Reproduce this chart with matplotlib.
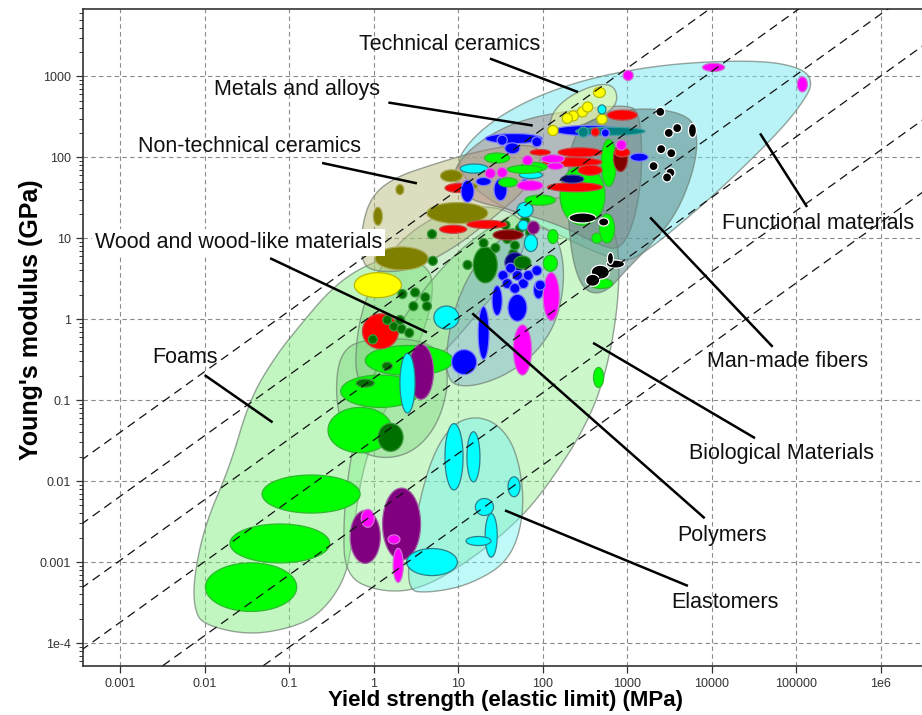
import numpy as np
import matplotlib
matplotlib.use('Agg')
import matplotlib.pyplot as plt
from matplotlib.ticker import FixedLocator, FixedFormatter, LogLocator, NullFormatter

plt.rcParams['font.family'] = ['Liberation Sans', 'DejaVu Sans']

# Axis ticks
X_TICKS = [1e-3, 1e-2, 0.1, 1, 10, 100, 1e3, 1e4, 1e5, 1e6]
X_TICK_LABELS = ['0.001', '0.01', '0.1', '1', '10', '100', '1000', '10000', '100000', '1e6']
Y_TICKS = [1e-4, 1e-3, 1e-2, 0.1, 1, 10, 100, 1000]
Y_TICK_LABELS = ['1e-4', '0.001', '0.01', '0.1', '1', '10', '100', '1000']

# Guide lines E = C * sigma^0.75, C given as E (GPa) at sigma = 1 MPa
GUIDE_SLOPE = 0.75
GUIDE_E_AT_1MPA = [7.1, 1.15, 0.186, 0.032, 0.0039, 0.0005]

# Family envelopes, outline points as log10(yield strength MPa), log10(modulus GPa)
FUNC_ENV_S = [0.96, 1.14, 1.50, 2.01, 2.68, 3.54, 4.57, 5.08, 5.20, 5.05, 4.78, 4.18, 3.59, 3.21, 2.98, 2.56, 1.85, 1.26]
FUNC_ENV_E = [1.90, 2.21, 2.52, 2.79, 3.01, 3.16, 3.20, 3.10, 2.91, 2.64, 2.30, 1.68, 1.14, 0.83, 0.70, 0.85, 1.22, 1.53]

FOAM_ENV_S = [-2.12, -2.13, -2.00, -1.70, -1.47, -1.17, -0.89, -0.50, -0.12, 0.25, 0.55, 0.73, 0.61, 0.31, 0.02, -0.16, -0.25, -0.34, -0.63, -0.99, -1.50, -2.02]
FOAM_ENV_E = [-3.58, -3.22, -2.55, -1.82, -1.00, -0.47, -0.10, 0.38, 0.66, 0.77, 0.72, 0.48, -0.14, -0.75, -1.37, -1.99, -2.73, -3.22, -3.64, -3.82, -3.90, -3.77]

BIO_ENV_S = [-0.34, -0.36, -0.28, -0.14, 0.02, 0.25, 0.67, 1.14, 1.73, 2.21, 2.68, 2.90, 2.90, 2.76, 2.52, 2.05, 1.69, 1.14, 0.55, 0.08]
BIO_ENV_E = [-3.18, -2.48, -1.74, -1.12, -0.63, -0.14, 0.48, 0.98, 1.35, 1.53, 1.47, 0.98, 0.23, -0.63, -1.31, -2.07, -2.51, -2.98, -3.34, -3.37]

FLEX_ENV_S = [-0.40, -0.04, 0.67, 0.91, 0.79, 0.49, 0.08, -0.30, -0.46]
FLEX_ENV_E = [-0.38, -0.23, -0.26, -0.63, -1.25, -1.64, -1.74, -1.56, -1.00]

WOOD_ENV_S = [-0.22, -0.20, -0.04, 0.25, 0.67, 1.14, 1.62, 1.85, 1.67, 1.26, 0.91, 0.55, 0.14]
WOOD_ENV_E = [-0.81, -0.14, 0.42, 0.91, 1.25, 1.41, 1.35, 1.10, 0.60, 0.11, -0.32, -0.69, -0.94]

ELAST_ENV_S = [0.37, 0.49, 0.67, 0.91, 1.20, 1.50, 1.71, 1.79, 1.62, 1.14, 0.67]
ELAST_ENV_E = [-3.35, -2.48, -1.74, -1.31, -1.19, -1.31, -1.68, -2.36, -2.98, -3.28, -3.38]

POLY_ENV_S = [0.85, 0.88, 1.08, 1.38, 1.79, 2.15, 2.27, 2.18, 1.91, 1.50, 1.08]
POLY_ENV_E = [-0.75, -0.14, 0.48, 0.91, 1.16, 1.10, 0.60, -0.01, -0.44, -0.73, -0.85]

NTC_ENV_S = [-0.15, -0.14, -0.02, 0.25, 0.67, 1.14, 1.73, 2.03, 1.85, 1.38, 0.91, 0.43, 0.02]
NTC_ENV_E = [0.70, 1.16, 1.53, 1.75, 1.90, 2.05, 2.17, 2.09, 1.65, 1.22, 0.85, 0.60, 0.58]

METAL_ENV_S = [0.96, 1.26, 1.73, 2.33, 2.98, 3.15, 3.18, 3.09, 2.92, 2.68, 2.21, 1.62, 1.14, 0.96]
METAL_ENV_E = [1.90, 2.21, 2.46, 2.58, 2.65, 2.56, 1.84, 1.22, 0.85, 0.91, 1.16, 1.35, 1.47, 1.65]

TECH_ENV_S = [2.07, 2.11, 2.33, 2.66, 2.85, 2.89, 2.74, 2.38]
TECH_ENV_E = [2.31, 2.56, 2.77, 2.91, 2.88, 2.68, 2.52, 2.36]

FIBRE_ENV_S = [2.29, 2.38, 2.68, 3.21, 3.75, 3.84, 3.77, 3.57, 3.27, 2.98, 2.74, 2.50, 2.36, 2.30]
FIBRE_ENV_E = [1.84, 2.33, 2.52, 2.62, 2.52, 2.21, 1.78, 1.28, 0.91, 0.60, 0.32, 0.33, 0.67, 1.22]

# Materials: log10 centre strength, log10 centre modulus, half range (decades) of each, colour code
foams_mat = [
    (-1.45, -3.31, 0.54, 0.30, 'G'),
    (-1.11, -2.77, 0.59, 0.24, 'G'),
    (-0.74, -2.16, 0.58, 0.235, 'G'),
    (-0.16, -1.37, 0.38, 0.28, 'G'),
    (0.20, -1.46, 0.148, 0.173, 'D'),
    (0.08, -0.89, 0.47, 0.20, 'G'),
    (-0.10, -0.79, 0.107, 0.05, 'D'),
    (0.42, -0.51, 0.52, 0.185, 'G'),
    (0.16, -0.58, 0.06, 0.05, 'D'),
]

elast_mat = [
    (-0.10, -2.69, 0.178, 0.327, 'P'),
    (0.33, -2.53, 0.225, 0.444, 'P'),
    (-0.07, -2.46, 0.077, 0.111, 'M'),
    (0.24, -2.72, 0.071, 0.056, 'M'),
    (0.29, -3.04, 0.06, 0.21, 'M'),
    (0.69, -3.00, 0.30, 0.167, 'C'),
    (0.95, -1.70, 0.107, 0.41, 'C'),
    (1.18, -1.70, 0.077, 0.31, 'C'),
    (1.66, -2.07, 0.071, 0.123, 'C'),
    (1.39, -2.67, 0.071, 0.27, 'C'),
    (1.24, -2.74, 0.148, 0.056, 'C'),
    (1.31, -2.32, 0.107, 0.105, 'C'),
    (0.56, -0.65, 0.148, 0.34, 'P'),
    (0.40, -0.79, 0.089, 0.37, 'C'),
]

wood_mat = [
    (0.05, 0.42, 0.278, 0.154, 'Y'),
    (0.33, 0.75, 0.314, 0.142, 'O'),
    (0.08, -0.15, 0.213, 0.216, 'R'),
    (0.86, 0.02, 0.148, 0.142, 'C'),
    (1.32, 0.67, 0.142, 0.222, 'D'),
]
wood_grain_S = [0.34, 0.49, 0.61, 0.47, 0.63, 0.16, 0.24, 0.33, 0.42, -0.01, 0.31, 0.70, 1.11, 0.69,
                1.30, 1.44, 1.65, 1.58, 1.64, 1.73, 1.56, 1.79, 1.67, 1.85]
wood_grain_E = [0.31, 0.33, 0.27, 0.16, 0.16, -0.01, -0.09, -0.12, -0.17, -0.25, -0.01, 0.72, 0.67, 1.05,
                0.94, 0.88, 0.81, 0.99, 1.06, 1.12, 1.16, 1.22, 0.91, 1.07]

polymer_mat = [
    (1.07, -0.53, 0.148, 0.154, 'B'),
    (1.30, -0.17, 0.065, 0.327, 'B'),
    (1.46, 0.23, 0.06, 0.185, 'B'),
    (1.70, 0.14, 0.112, 0.167, 'B'),
    (1.67, 0.70, 0.118, 0.123, 'N'),
    (1.95, 0.36, 0.06, 0.11, 'B'),
    (2.10, 0.28, 0.095, 0.296, 'M'),
    (1.76, -0.38, 0.107, 0.31, 'M'),
    (1.79, 1.35, 0.095, 0.093, 'C'),
    (1.86, 0.94, 0.077, 0.105, 'C'),
    (1.77, 1.16, 0.06, 0.062, 'C'),
    (1.89, 1.13, 0.07, 0.08, 'P'),
]
polymer_bead_S = [1.53, 1.62, 1.70, 1.77, 1.58, 1.67, 1.83, 1.93, 1.97]
polymer_bead_E = [0.54, 0.63, 0.54, 0.44, 0.44, 0.38, 0.54, 0.60, 0.42]

bio_mat = [
    (2.47, 1.53, 0.266, 0.37, 'G'),
    (2.78, 1.93, 0.089, 0.29, 'G'),
    (2.09, 0.69, 0.083, 0.099, 'G'),
    (2.12, 1.02, 0.06, 0.086, 'G'),
    (2.64, 1.00, 0.06, 0.062, 'G'),
    (2.76, 1.12, 0.089, 0.179, 'G'),
    (2.66, -0.72, 0.06, 0.123, 'G'),
    (2.69, 0.44, 0.136, 0.062, 'G'),
    (1.76, 0.70, 0.10, 0.08, 'D'),
    (1.97, 1.47, 0.18, 0.062, 'G'),
]

ntc_mat = [
    (0.99, 1.31, 0.36, 0.13, 'O'),
    (0.92, 1.77, 0.13, 0.074, 'O'),
    (1.11, 1.64, 0.12, 0.046, 'O'),
    (0.31, 1.60, 0.047, 0.062, 'O'),
    (0.05, 1.27, 0.053, 0.111, 'O'),
]

metal_mat = [
    (1.66, 2.23, 0.34, 0.062, 'B'),
    (2.53, 2.33, 0.40, 0.062, 'B'),
    (2.80, 2.32, 0.41, 0.05, 'T'),
    (2.48, 2.31, 0.06, 0.062, 'T'),
    (2.62, 2.31, 0.047, 0.05, 'R'),
    (2.74, 2.30, 0.047, 0.05, 'B'),
    (2.94, 2.52, 0.178, 0.062, 'R'),
    (2.92, 1.99, 0.083, 0.167, 'W'),
    (2.94, 2.06, 0.089, 0.056, 'R'),
    (2.93, 2.15, 0.06, 0.062, 'M'),
    (3.14, 2.00, 0.107, 0.05, 'B'),
    (2.44, 2.06, 0.26, 0.056, 'R'),
    (2.35, 1.94, 0.35, 0.056, 'R'),
    (2.38, 1.63, 0.325, 0.056, 'R'),
    (2.56, 1.84, 0.142, 0.062, 'R'),
    (2.12, 1.98, 0.136, 0.05, 'M'),
    (2.15, 1.89, 0.095, 0.043, 'M'),
    (2.35, 1.73, 0.136, 0.05, 'N'),
    (1.89, 1.88, 0.16, 0.056, 'G'),
    (1.86, 1.78, 0.136, 0.043, 'C'),
    (1.79, 1.68, 0.047, 0.05, 'B'),
    (1.19, 1.86, 0.166, 0.056, 'C'),
    (1.01, 1.62, 0.166, 0.056, 'R'),
    (0.94, 1.11, 0.16, 0.05, 'R'),
    (1.34, 1.17, 0.237, 0.05, 'R'),
    (1.59, 1.04, 0.178, 0.062, 'W'),
    (1.11, 1.58, 0.077, 0.136, 'B'),
    (1.30, 1.70, 0.089, 0.05, 'B'),
    (1.50, 1.60, 0.077, 0.136, 'B'),
    (1.52, 2.21, 0.06, 0.062, 'B'),
    (1.93, 2.19, 0.06, 0.062, 'B'),
    (1.64, 2.11, 0.089, 0.068, 'B'),
    (1.38, 1.80, 0.06, 0.062, 'M'),
    (1.52, 1.81, 0.06, 0.062, 'M'),
    (1.82, 1.96, 0.06, 0.062, 'M'),
    (1.79, 1.85, 0.207, 0.05, 'G'),
    (1.59, 1.69, 0.112, 0.056, 'G'),
    (1.85, 1.65, 0.154, 0.062, 'M'),
    (1.97, 2.06, 0.12, 0.035, 'R'),
    (1.46, 1.99, 0.148, 0.062, 'G'),
]

tech_mat = [
    (2.67, 2.80, 0.07, 0.062, 'Y'),
    (2.36, 2.51, 0.06, 0.062, 'Y'),
    (2.47, 2.56, 0.06, 0.062, 'Y'),
    (2.53, 2.62, 0.06, 0.062, 'Y'),
    (2.29, 2.48, 0.06, 0.062, 'Y'),
    (2.70, 2.47, 0.06, 0.062, 'Y'),
    (2.12, 2.33, 0.06, 0.062, 'Y'),
    (2.70, 2.59, 0.047, 0.056, 'C'),
]

fibre_mat = [
    (2.47, 1.25, 0.16, 0.062, 'K'),
    (2.72, 1.20, 0.06, 0.05, 'K'),
    (2.68, 0.58, 0.107, 0.086, 'K'),
    (2.86, 0.68, 0.107, 0.05, 'K'),
    (2.80, 0.75, 0.036, 0.074, 'K'),
    (2.59, 0.48, 0.083, 0.074, 'K'),
    (3.77, 2.33, 0.047, 0.086, 'K'),
]
fibre_dot_S = [3.39, 3.49, 3.59, 3.40, 3.52, 3.31, 3.51, 3.47]
fibre_dot_E = [2.56, 2.30, 2.36, 2.10, 2.05, 1.89, 1.81, 1.75]

func_mat = [
    (3.01, 3.01, 0.06, 0.062, 'M'),
    (4.02, 3.11, 0.13, 0.05, 'M'),
    (5.07, 2.90, 0.06, 0.093, 'M'),
]

# fill / edge colour for each material colour code
PALETTE = {
    'G': ('#00ff00', '#2fb82f'), 'D': ('#007000', '#3e9a3e'), 'R': ('#ff0000', '#c84848'),
    'B': ('#0000ff', '#8080ff'), 'N': ('#000080', '#5050a0'), 'C': ('#00ffff', '#2e7f8a'),
    'P': ('#800080', '#a060a0'), 'M': ('#ff00ff', '#d070d0'), 'O': ('#808000', '#aaaa55'),
    'Y': ('#ffff00', '#b8b800'), 'K': ('#000000', '#ffffff'), 'T': ('#008080', '#40a0a0'),
    'W': ('#800000', '#a04040'),
}


def chaikin(xs, ys, n=4):
    pts = np.column_stack([xs, ys]).astype(float)
    for _ in range(n):
        nxt = np.roll(pts, -1, axis=0)
        q = 0.75 * pts + 0.25 * nxt
        r = 0.25 * pts + 0.75 * nxt
        pts = np.empty((2 * len(q), 2))
        pts[0::2] = q
        pts[1::2] = r
    return pts


def draw_envelope(ax, xs, ys, face, alpha, z):
    pts = chaikin(xs, ys)
    ax.fill(10 ** pts[:, 0], 10 ** pts[:, 1], facecolor=face, alpha=alpha,
            edgecolor='none', zorder=z)
    ax.fill(10 ** pts[:, 0], 10 ** pts[:, 1], facecolor='none',
            edgecolor='#6f7f72', lw=1.0, alpha=0.7, zorder=z)


def draw_bubble(ax, ls, le, ds, de, code, z=3):
    t = np.linspace(0, 2 * np.pi, 80)
    face, edge = PALETTE[code]
    ax.fill(10 ** (ls + ds * np.cos(t)), 10 ** (le + de * np.sin(t)),
            facecolor=face, edgecolor=edge, lw=0.9, zorder=z)


fig = plt.figure(figsize=(9.22, 7.15), dpi=100)
ax = fig.add_axes([0.090, 0.0685, 0.910, 0.9185])
ax.set_xscale('log')
ax.set_yscale('log')
ax.set_xlim(10 ** -3.438, 10 ** 6.485)
ax.set_ylim(10 ** -4.284, 10 ** 3.827)

# envelopes, back to front
draw_envelope(ax, FUNC_ENV_S, FUNC_ENV_E, '#74e8f0', 0.5, 1.0)
draw_envelope(ax, FOAM_ENV_S, FOAM_ENV_E, '#84ee84', 0.5, 1.1)
draw_envelope(ax, BIO_ENV_S, BIO_ENV_E, '#8cee8c', 0.45, 1.2)
draw_envelope(ax, FLEX_ENV_S, FLEX_ENV_E, '#5cc85c', 0.3, 1.25)
draw_envelope(ax, WOOD_ENV_S, WOOD_ENV_E, '#5cc85c', 0.3, 1.3)
draw_envelope(ax, ELAST_ENV_S, ELAST_ENV_E, '#72f4f0', 0.45, 1.4)
draw_envelope(ax, POLY_ENV_S, POLY_ENV_E, '#7aa6d0', 0.42, 1.5)
draw_envelope(ax, NTC_ENV_S, NTC_ENV_E, '#bcbc80', 0.5, 1.6)
draw_envelope(ax, METAL_ENV_S, METAL_ENV_E, '#a87878', 0.45, 1.7)
draw_envelope(ax, TECH_ENV_S, TECH_ENV_E, '#e4f8a0', 0.6, 1.8)
draw_envelope(ax, FIBRE_ENV_S, FIBRE_ENV_E, '#5f8a8a', 0.55, 1.9)

# material bubbles
for group in (foams_mat, elast_mat, wood_mat):
    for row in group:
        draw_bubble(ax, *row)
for ls, le in zip(wood_grain_S, wood_grain_E):
    draw_bubble(ax, ls, le, 0.053, 0.056, 'D')
for row in polymer_mat:
    draw_bubble(ax, *row)
for ls, le in zip(polymer_bead_S, polymer_bead_E):
    draw_bubble(ax, ls, le, 0.06, 0.062, 'B')
for group in (bio_mat, ntc_mat, metal_mat, tech_mat, fibre_mat):
    for row in group:
        draw_bubble(ax, *row)
for ls, le in zip(fibre_dot_S, fibre_dot_E):
    draw_bubble(ax, ls, le, 0.053, 0.056, 'K')
for row in func_mat:
    draw_bubble(ax, *row)

# guide lines
sig_line = np.logspace(-3.6, 6.6, 200)
for c in GUIDE_E_AT_1MPA:
    ax.plot(sig_line, c * sig_line ** GUIDE_SLOPE, color='#111111', lw=0.9,
            dashes=(7, 4.5), zorder=4)

# family labels with leader lines (axes fraction)
labels = [
    ('Technical ceramics', (0.437, 0.947), (0.485, 0.925), (0.590, 0.874)),
    ('Metals and alloys', (0.255, 0.878), (0.364, 0.858), (0.536, 0.823)),
    ('Non-technical ceramics', (0.199, 0.791), (0.285, 0.766), (0.398, 0.735)),
    ('Wood and wood-like materials', (0.185, 0.645), (0.223, 0.621), (0.410, 0.508)),
    ('Foams', (0.122, 0.470), (0.145, 0.443), (0.226, 0.371)),
    ('Functional materials', (0.876, 0.674), (0.863, 0.699), (0.807, 0.811)),
    ('Man-made fibers', (0.840, 0.463), (0.822, 0.486), (0.676, 0.683)),
    ('Biological Materials', (0.832, 0.324), (0.801, 0.347), (0.608, 0.492)),
    ('Polymers', (0.762, 0.199), (0.741, 0.225), (0.464, 0.537)),
    ('Elastomers', (0.765, 0.096), (0.721, 0.122), (0.503, 0.237)),
]
for name, txt, p0, p1 in labels:
    ax.plot([p0[0], p1[0]], [p0[1], p1[1]], transform=ax.transAxes,
            color='black', lw=1.8, zorder=5, solid_capstyle='butt')
    box = None
    if name.startswith('Wood'):
        box = dict(facecolor='white', edgecolor='none', pad=2)
    ax.text(txt[0], txt[1], name, transform=ax.transAxes, ha='center', va='center',
            fontsize=15.5, color='#111111', zorder=6, bbox=box)

# axes styling
ax.grid(True, which='major', color='#8a8a8a', lw=0.8, dashes=(4, 3), zorder=0.5)
ax.set_axisbelow(True)
ax.xaxis.set_major_locator(FixedLocator(X_TICKS))
ax.xaxis.set_major_formatter(FixedFormatter(X_TICK_LABELS))
ax.yaxis.set_major_locator(FixedLocator(Y_TICKS))
ax.yaxis.set_major_formatter(FixedFormatter(Y_TICK_LABELS))
ax.xaxis.set_minor_locator(LogLocator(base=10, subs=np.arange(2, 10)))
ax.yaxis.set_minor_locator(LogLocator(base=10, subs=np.arange(2, 10)))
ax.xaxis.set_minor_formatter(NullFormatter())
ax.yaxis.set_minor_formatter(NullFormatter())
ax.tick_params(which='major', direction='out', length=5, width=0.9, colors='#333333',
               labelsize=9, labelcolor='#333333')
ax.tick_params(which='minor', direction='out', length=3, width=0.7, colors='#333333')
ax.spines['right'].set_visible(False)
for side in ('left', 'bottom', 'top'):
    ax.spines[side].set_color('#333333')
    ax.spines[side].set_linewidth(1.2)

ax.set_xlabel('Yield strength (elastic limit) (MPa)', fontsize=16, fontweight='bold')
ax.set_ylabel("Young's modulus (GPa)", fontsize=18, fontweight='bold')
ax.xaxis.set_label_coords(0.503, -0.036)
ax.yaxis.set_label_coords(-0.048, 0.528)

fig.savefig('out.png', dpi=100)
